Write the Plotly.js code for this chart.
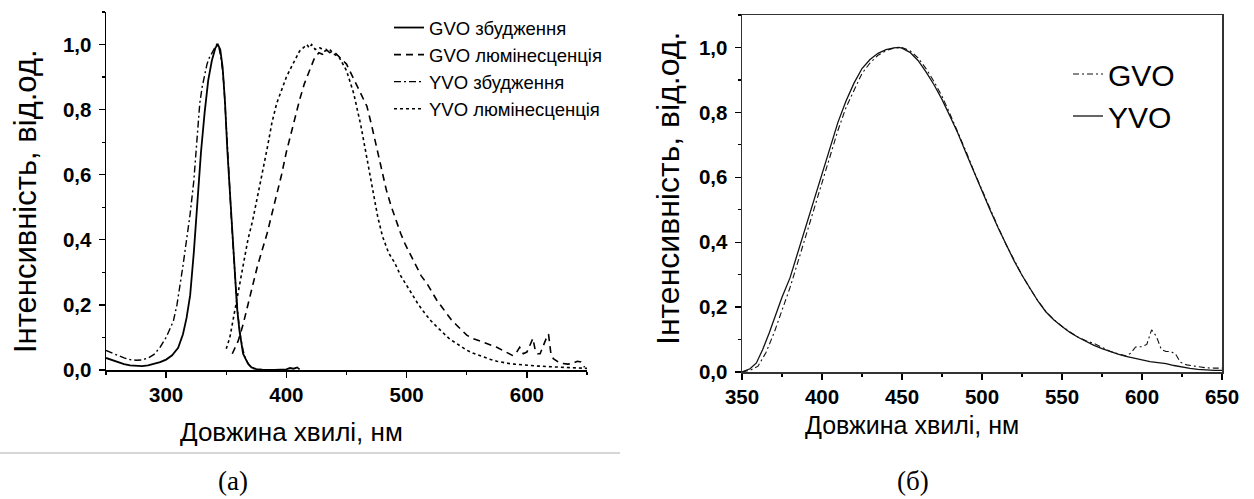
<!DOCTYPE html>
<html><head><meta charset="utf-8">
<script src="https://cdn.plot.ly/plotly-3.0.1.min.js"></script>
<style>html,body{margin:0;padding:0;background:#fff}#chart{width:1254px;height:499px}</style>
</head><body><div id="chart"></div>
<script>
// ---- Panel (a) data ----
const gvoExcX = [250,255,260,265,270,275,280,285,290,295,300,305,310,314,317,320,323,326,329,332,335,338,341,343,345,347,349,351,353,355,357,359,361,363,364,366,368,371,375,380,390,400,403,406,409,411];
const gvoExcY = [0.037,0.030,0.024,0.018,0.014,0.012,0.012,0.014,0.018,0.024,0.032,0.045,0.068,0.11,0.16,0.23,0.36,0.53,0.67,0.79,0.89,0.95,0.99,1.0,0.985,0.93,0.82,0.67,0.55,0.42,0.30,0.19,0.12,0.07,0.05,0.035,0.02,0.008,0.003,0.001,0.0,0.002,0.006,0.004,0.008,0.002];

const yvoExcX = [250,255,260,265,270,275,280,285,290,295,300,303,306,309,311,314,317,320,323,326,328,330,332,334,336,338,340,342,344,346,348,350,352,354,356,358,360,362,364,366,369,372,376];
const yvoExcY = [0.06,0.052,0.044,0.037,0.032,0.030,0.031,0.037,0.048,0.07,0.10,0.125,0.15,0.2,0.245,0.32,0.40,0.48,0.58,0.72,0.82,0.87,0.91,0.94,0.96,0.975,0.99,1.0,0.99,0.95,0.88,0.76,0.62,0.48,0.36,0.25,0.16,0.10,0.06,0.035,0.015,0.005,0.0];

const gvoLumX = [355,360,364,368,372,376,380,384,388,392,396,400,404,408,411,415,419,423,427,430,433,436,439,442,446,450,454,458,462,467,471,475,479,483,487,491,495,499,503,508,512,517,521,525,529,533,537,541,545,550,555,560,565,570,575,580,585,588,591,594,597,600,603,605,607,609,611,613,615,617,618,620,622,626,630,634,638,642,645,648];
const gvoLumY = [0.05,0.09,0.14,0.2,0.26,0.32,0.37,0.42,0.48,0.54,0.60,0.67,0.73,0.79,0.83,0.88,0.92,0.955,0.975,0.97,0.985,0.975,0.98,0.97,0.955,0.94,0.91,0.88,0.85,0.81,0.75,0.685,0.62,0.555,0.505,0.46,0.42,0.385,0.355,0.32,0.29,0.265,0.24,0.215,0.195,0.175,0.155,0.14,0.125,0.107,0.097,0.09,0.085,0.078,0.07,0.06,0.05,0.045,0.052,0.07,0.05,0.055,0.08,0.097,0.06,0.05,0.05,0.07,0.09,0.105,0.11,0.05,0.035,0.025,0.02,0.018,0.02,0.027,0.025,0.008];

const yvoLumX = [350,353,356,360,364,368,372,376,380,384,388,392,396,400,404,408,411,414,417,419,421,424,428,432,436,440,444,450,456,462,468,472,476,480,485,490,495,500,505,510,515,520,525,530,535,540,545,550,555,560,565,570,575,580,585,590,595,600,610,620,630,640,650];
const yvoLumY = [0.065,0.10,0.16,0.24,0.32,0.40,0.46,0.53,0.60,0.68,0.76,0.82,0.86,0.90,0.93,0.96,0.98,0.99,1.0,0.99,1.0,0.985,0.99,0.98,0.985,0.97,0.96,0.92,0.85,0.75,0.63,0.55,0.47,0.41,0.36,0.33,0.29,0.26,0.228,0.20,0.175,0.152,0.133,0.115,0.098,0.085,0.072,0.061,0.052,0.045,0.038,0.032,0.027,0.023,0.02,0.018,0.016,0.015,0.012,0.01,0.008,0.006,0.005];

// ---- Panel (б) data ----
const yvoX = [350,355,359,363,367,370,375,380,385,390,395,400,405,410,415,420,425,430,435,440,445,448,450,455,460,465,470,475,480,485,490,495,500,505,510,515,520,525,530,535,540,545,550,555,560,565,570,575,580,585,590,595,600,605,610,615,620,625,630,635,640,645,650];
const yvoY = [0.0,0.01,0.028,0.07,0.12,0.16,0.23,0.29,0.37,0.45,0.53,0.61,0.69,0.77,0.835,0.89,0.935,0.963,0.982,0.993,0.999,1.0,0.998,0.985,0.96,0.925,0.885,0.84,0.788,0.735,0.675,0.615,0.558,0.5,0.445,0.392,0.343,0.298,0.256,0.218,0.185,0.16,0.14,0.122,0.107,0.094,0.082,0.072,0.063,0.055,0.048,0.042,0.036,0.032,0.029,0.026,0.02,0.015,0.011,0.008,0.006,0.005,0.005];

const gvoX = [350,355,360,365,370,375,380,385,390,395,400,405,410,415,420,425,430,435,440,445,450,455,460,465,470,475,480,485,490,495,500,505,510,515,520,525,530,535,540,545,550,555,560,565,570,575,580,585,590,593,596,600,603,606,609,612,615,618,621,624,628,633,640,645,650];
const gvoY = [0.0,0.005,0.018,0.06,0.12,0.19,0.26,0.34,0.42,0.50,0.58,0.665,0.745,0.815,0.87,0.92,0.952,0.976,0.99,0.998,1.0,0.99,0.968,0.935,0.895,0.85,0.795,0.74,0.68,0.618,0.56,0.502,0.447,0.393,0.344,0.299,0.257,0.219,0.186,0.161,0.141,0.123,0.108,0.096,0.088,0.075,0.064,0.056,0.05,0.058,0.077,0.078,0.085,0.13,0.11,0.07,0.063,0.063,0.055,0.03,0.022,0.018,0.013,0.012,0.012];

const W = 1254, H = 499;
const px = x => x / W, py = y => 1 - y / H;

const traces = [
  {x: gvoExcX, y: gvoExcY, name: 'GVO збудження', mode: 'lines', line: {color: '#000', width: 1.8, dash: 'solid'}, xaxis: 'x', yaxis: 'y', legend: 'legend'},
  {x: gvoLumX, y: gvoLumY, name: 'GVO люмінесценція', mode: 'lines', line: {color: '#000', width: 1.6, dash: '7px,5px'}, xaxis: 'x', yaxis: 'y', legend: 'legend'},
  {x: yvoExcX, y: yvoExcY, name: 'YVO збудження', mode: 'lines', line: {color: '#000', width: 1.4, dash: '7px,3px,2px,3px'}, xaxis: 'x', yaxis: 'y', legend: 'legend'},
  {x: yvoLumX, y: yvoLumY, name: 'YVO люмінесценція', mode: 'lines', line: {color: '#000', width: 1.6, dash: '3px,3px'}, xaxis: 'x', yaxis: 'y', legend: 'legend'},
  {x: gvoX, y: gvoY, name: 'GVO', mode: 'lines', line: {color: '#111', width: 1.1, dash: '6px,3px,2px,3px'}, xaxis: 'x2', yaxis: 'y2', legend: 'legend2'},
  {x: yvoX, y: yvoY, name: 'YVO', mode: 'lines', line: {color: '#111', width: 1.3, dash: 'solid'}, xaxis: 'x2', yaxis: 'y2', legend: 'legend2'}
];

const tickFont = {family: 'Liberation Sans, Arial, sans-serif', size: 20.5, color: '#000', weight: 'bold'};
const axBase = {showgrid: false, zeroline: false, ticks: 'outside', ticklen: 6, tickwidth: 1.3, tickcolor: '#000', linecolor: '#000', linewidth: 1.5, showline: true, tickfont: tickFont, fixedrange: true};

const layout = {
  width: W, height: H,
  margin: {l: 0, r: 0, t: 0, b: 0},
  paper_bgcolor: '#fff', plot_bgcolor: 'rgba(0,0,0,0)',
  separators: ',.',
  xaxis: Object.assign({}, axBase, {domain: [px(106), px(587)], range: [250, 650], dtick: 100, tick0: 0, anchor: 'y',
    minor: {dtick: 50, tick0: 0, ticks: 'outside', ticklen: 3, tickcolor: '#000'}}),
  yaxis: Object.assign({}, axBase, {domain: [py(370), py(12)], range: [0, 1.1], dtick: 0.2, tick0: 0, tickformat: '.1f', anchor: 'x', ticklabelstandoff: 3,
    minor: {dtick: 0.1, tick0: 0, ticks: 'outside', ticklen: 3, tickcolor: '#000'}}),
  xaxis2: Object.assign({}, axBase, {domain: [px(742), px(1222)], range: [350, 650], dtick: 50, tick0: 0, anchor: 'y2', mirror: true, linecolor: '#333',
    minor: {dtick: 25, tick0: 0, ticks: 'outside', ticklen: 3, tickcolor: '#000'}}),
  yaxis2: Object.assign({}, axBase, {domain: [py(372), py(15)], range: [0, 1.1], dtick: 0.2, tick0: 0, tickformat: '.1f', anchor: 'x2', mirror: true, linecolor: '#333', ticklabelstandoff: 3,
    minor: {dtick: 0.1, tick0: 0, ticks: 'outside', ticklen: 3, tickcolor: '#000'}}),
  showlegend: true,
  legend: {x: px(389), y: py(9), xanchor: 'left', yanchor: 'top', bgcolor: 'rgba(0,0,0,0)', borderwidth: 0,
    font: {family: 'Liberation Sans, Arial, sans-serif', size: 18.5, color: '#000'}, tracegroupgap: 0},
  legend2: {x: px(1068), y: py(48), xanchor: 'left', yanchor: 'top', bgcolor: 'rgba(0,0,0,0)', borderwidth: 0,
    font: {family: 'Liberation Sans, Arial, sans-serif', size: 30, color: '#000'}},
  shapes: [
    {type: 'line', xref: 'paper', yref: 'paper', x0: 0, x1: px(620), y0: py(453), y1: py(453), line: {color: '#c8c8c8', width: 1.5}}
  ],
  annotations: [
    {text: 'Інтенсивність, від.од.', xref: 'paper', yref: 'paper', x: px(25), y: py(201), textangle: -90, showarrow: false, xanchor: 'center', yanchor: 'middle',
      font: {family: 'Liberation Sans, Arial, sans-serif', size: 31, color: '#000'}},
    {text: 'Інтенсивність, від.од.', xref: 'paper', yref: 'paper', x: px(668), y: py(189), textangle: -90, showarrow: false, xanchor: 'center', yanchor: 'middle',
      font: {family: 'Liberation Sans, Arial, sans-serif', size: 32, color: '#000'}},
    {text: 'Довжина хвилі, нм', xref: 'paper', yref: 'paper', x: px(291), y: py(432), showarrow: false, xanchor: 'center', yanchor: 'middle',
      font: {family: 'Liberation Sans, Arial, sans-serif', size: 26, color: '#000'}},
    {text: 'Довжина хвилі, нм', xref: 'paper', yref: 'paper', x: px(912), y: py(425), showarrow: false, xanchor: 'center', yanchor: 'middle',
      font: {family: 'Liberation Sans, Arial, sans-serif', size: 25, color: '#000'}},
    {text: '(а)', xref: 'paper', yref: 'paper', x: px(233), y: py(481), showarrow: false, xanchor: 'center', yanchor: 'middle',
      font: {family: 'Liberation Serif, Times New Roman, serif', size: 27, color: '#000'}},
    {text: '(б)', xref: 'paper', yref: 'paper', x: px(913), y: py(481), showarrow: false, xanchor: 'center', yanchor: 'middle',
      font: {family: 'Liberation Serif, Times New Roman, serif', size: 27, color: '#000'}}
  ]
};

Plotly.newPlot('chart', traces, layout, {displayModeBar: false, staticPlot: true});
</script>
</body></html>
